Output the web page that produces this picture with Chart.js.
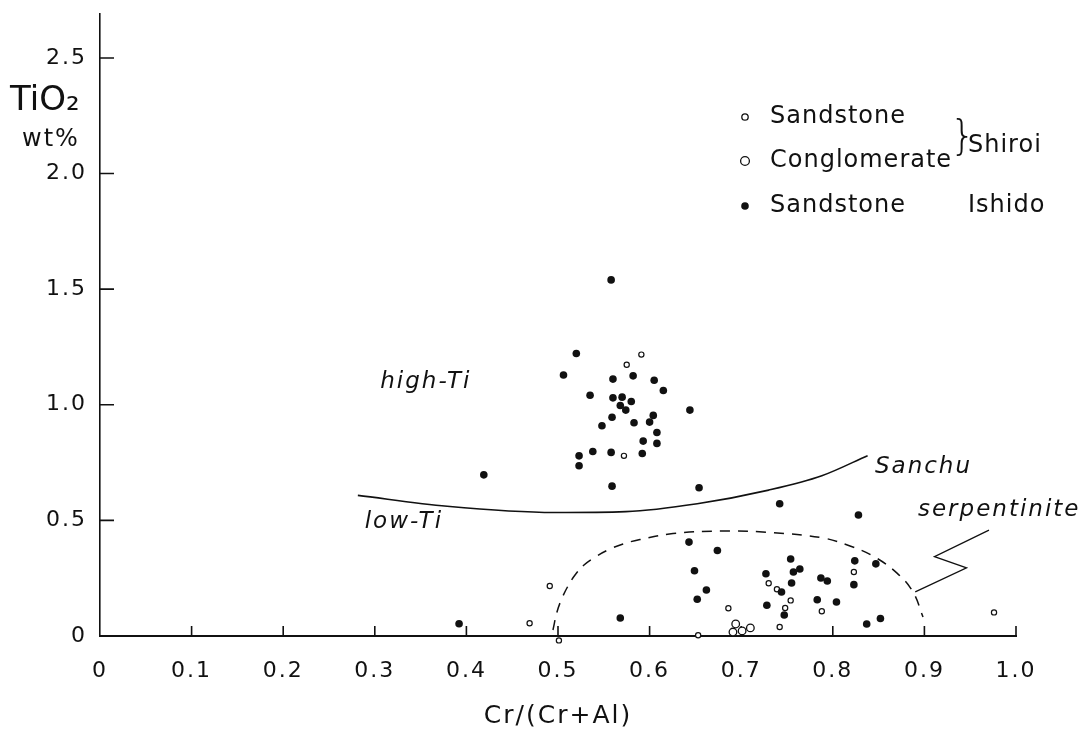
<!DOCTYPE html>
<html>
<head>
<meta charset="utf-8">
<script src="https://cdn.jsdelivr.net/npm/chart.js@4.4.1/dist/chart.umd.min.js"></script>
<style>
  html, body { margin: 0; background: #fff; }
  canvas { display: block; }
</style>
</head>
<body>
<canvas id="chart" width="1079" height="731"></canvas>
<script>
// --- data: [Cr/(Cr+Al), TiO2 wt%] ---
const xTicks = [0, 0.1, 0.2, 0.3, 0.4, 0.5, 0.6, 0.7, 0.8, 0.9, 1.0];
const yTicks = [0, 0.5, 1.0, 1.5, 2.0, 2.5];

// Ishido sandstone (filled dots)
const ishidoSandstone = [
  [0.558, 1.54], [0.520, 1.222], [0.506, 1.129], [0.560, 1.111], [0.582, 1.125],
  [0.605, 1.106], [0.615, 1.062], [0.535, 1.041], [0.560, 1.030], [0.570, 1.033],
  [0.580, 1.014], [0.568, 0.997], [0.574, 0.977], [0.644, 0.977], [0.559, 0.946],
  [0.604, 0.954], [0.600, 0.925], [0.548, 0.909], [0.583, 0.922], [0.608, 0.880],
  [0.593, 0.843], [0.608, 0.833], [0.523, 0.779], [0.538, 0.798], [0.558, 0.794],
  [0.592, 0.789], [0.523, 0.736], [0.419, 0.697], [0.559, 0.648], [0.654, 0.641],
  [0.742, 0.572], [0.828, 0.523], [0.643, 0.406], [0.674, 0.370], [0.754, 0.333],
  [0.824, 0.325], [0.847, 0.312], [0.649, 0.282], [0.764, 0.290], [0.757, 0.277],
  [0.727, 0.269], [0.787, 0.251], [0.794, 0.238], [0.755, 0.229], [0.823, 0.222],
  [0.662, 0.199], [0.744, 0.190], [0.652, 0.159], [0.783, 0.157], [0.804, 0.147],
  [0.728, 0.133], [0.747, 0.091], [0.837, 0.052], [0.852, 0.076], [0.568, 0.078],
  [0.392, 0.053]
];

// Shiroi sandstone (small open circles)
const shiroiSandstone = [
  [0.591, 1.217], [0.575, 1.173], [0.572, 0.779], [0.823, 0.277], [0.730, 0.228],
  [0.739, 0.202], [0.754, 0.154], [0.686, 0.120], [0.748, 0.121], [0.788, 0.107],
  [0.742, 0.039], [0.653, 0.003], [0.491, 0.216], [0.469, 0.055], [0.501, -0.019],
  [0.532, -0.026], [0.976, 0.102]
];

// Shiroi conglomerate (larger open circles)
const shiroiConglomerate = [
  [0.694, 0.052], [0.691, 0.017], [0.701, 0.022], [0.710, 0.035], [0.695, -0.030]
];

// high-Ti / low-Ti boundary
const boundaryLine = [
  [0.2815, 0.608], [0.379, 0.561], [0.496, 0.534], [0.574, 0.538],
  [0.652, 0.572], [0.730, 0.631], [0.788, 0.693], [0.838, 0.780]
];

// Sanchu serpentinite field (dashed)
const serpentiniteField = [
  [0.4945, 0.026], [0.4989, 0.104], [0.5044, 0.164], [0.5109, 0.216], [0.5186, 0.264],
  [0.5284, 0.307], [0.5404, 0.341], [0.5546, 0.372], [0.5710, 0.398], [0.5895, 0.417],
  [0.6255, 0.443], [0.6801, 0.454], [0.7347, 0.447], [0.7893, 0.424], [0.8188, 0.389],
  [0.8439, 0.346], [0.8701, 0.272], [0.8876, 0.190], [0.8985, 0.082]
];

// leader from the dashed field to its label
const serpentiniteLeader = [
  [0.890, 0.191], [0.946, 0.295], [0.911, 0.343], [0.9705, 0.458]
];

const FONT = "'DejaVu Sans', 'Liberation Sans', sans-serif";
const INK = '#111';

const toPts = arr => arr.map(([x, y]) => ({ x, y }));
const fmt = v => (v === 0 ? '0' : v.toFixed(1));

// --- text that sits on the drawing (anchored to data coordinates) ---
const notes = [
  { text: 'high-Ti', x: 0.306, y: 1.098 },
  { text: 'low-Ti', x: 0.289, y: 0.493 },
  { text: 'Sanchu', x: 0.846, y: 0.730 },
  { text: 'serpentinite', x: 0.893, y: 0.545 }
];

function drawSymbol(ctx, kind, x, y) {
  ctx.beginPath();
  if (kind === 'filled') {
    ctx.arc(x, y, 3.8, 0, Math.PI * 2);
    ctx.fillStyle = INK;
    ctx.fill();
  } else {
    ctx.arc(x, y, kind === 'big' ? 4.4 : 3.2, 0, Math.PI * 2);
    ctx.fillStyle = '#fff';
    ctx.fill();
    ctx.lineWidth = 1.3;
    ctx.strokeStyle = INK;
    ctx.stroke();
  }
}

const paperPlugin = {
  id: 'paper',
  beforeDraw(chart) {
    const ctx = chart.ctx;
    ctx.save();
    ctx.fillStyle = '#fff';
    ctx.fillRect(0, 0, chart.width, chart.height);
    ctx.restore();
    ctx.letterSpacing = '2px';
  },
  // ticks point inwards on this figure
  beforeDatasetsDraw(chart) {
    const { ctx, chartArea: a, scales: { x, y } } = chart;
    ctx.save();
    ctx.strokeStyle = INK;
    ctx.lineWidth = 1.6;
    ctx.beginPath();
    x.ticks.forEach(t => {
      if (t.value === 0) return;
      const px = x.getPixelForValue(t.value);
      ctx.moveTo(px, a.bottom);
      ctx.lineTo(px, a.bottom - 10);
    });
    y.ticks.forEach(t => {
      if (t.value === 0) return;
      const py = y.getPixelForValue(t.value);
      ctx.moveTo(a.left, py);
      ctx.lineTo(a.left + 14, py);
    });
    ctx.stroke();
    ctx.restore();
  },
  afterDraw(chart) {
    const { ctx, scales: { x, y } } = chart;
    ctx.save();
    ctx.fillStyle = INK;
    ctx.textBaseline = 'middle';
    ctx.textAlign = 'left';

    // y axis title
    ctx.letterSpacing = '0px';
    ctx.font = '34px ' + FONT;
    ctx.fillText('TiO\u2082', 10, 101);
    ctx.letterSpacing = '2px';
    ctx.font = '24px ' + FONT;
    ctx.fillText('wt%', 22, 140);

    // notes on the plot
    ctx.font = 'italic 23px ' + FONT;
    notes.forEach(n => {
      ctx.fillText(n.text, x.getPixelForValue(n.x), y.getPixelForValue(n.y));
    });

    // legend
    ctx.letterSpacing = '1px';
    const rows = [
      { kind: 'small', label: 'Sandstone', py: 117 },
      { kind: 'big', label: 'Conglomerate', py: 161 },
      { kind: 'filled', label: 'Sandstone', py: 206 }
    ];
    rows.forEach(r => {
      drawSymbol(ctx, r.kind, 745, r.py);
      ctx.fillStyle = INK;
      ctx.font = '24px ' + FONT;
      ctx.fillText(r.label, 770, r.py);
    });
    ctx.font = '300 40px ' + FONT;
    ctx.letterSpacing = '0px';
    ctx.fillText('}', 950, 139);
    ctx.letterSpacing = '1px';
    ctx.font = '24px ' + FONT;
    ctx.fillText('Shiroi', 968, 146);
    ctx.fillText('Ishido', 968, 206);
    ctx.restore();
  }
};

const ctx = document.getElementById('chart').getContext('2d');
new Chart(ctx, {
  type: 'scatter',
  data: {
    datasets: [
      {
        label: 'Sandstone (Ishido)', data: toPts(ishidoSandstone),
        pointRadius: 3.8, pointBackgroundColor: INK, pointBorderWidth: 0, clip: false
      },
      {
        label: 'Conglomerate (Shiroi)', data: toPts(shiroiConglomerate),
        pointRadius: 3.8, pointBackgroundColor: '#fff', pointBorderColor: INK, pointBorderWidth: 1.3, clip: false
      },
      {
        label: 'Sandstone (Shiroi)', data: toPts(shiroiSandstone),
        pointRadius: 2.6, pointBackgroundColor: '#fff', pointBorderColor: INK, pointBorderWidth: 1.2, clip: false
      },
      {
        label: 'high-Ti / low-Ti', data: toPts(boundaryLine), showLine: true,
        borderColor: INK, borderWidth: 1.6, pointRadius: 0, cubicInterpolationMode: 'monotone', clip: false
      },
      {
        label: 'Sanchu serpentinite', data: toPts(serpentiniteField), showLine: true,
        borderColor: INK, borderWidth: 1.5, borderDash: [10, 8], pointRadius: 0,
        tension: 0.4, clip: false
      },
      {
        label: 'leader', data: toPts(serpentiniteLeader), showLine: true,
        borderColor: INK, borderWidth: 1.3, pointRadius: 0, tension: 0, clip: false
      }
    ]
  },
  options: {
    responsive: false,
    animation: false,
    events: [],
    layout: { padding: { top: 14, right: 63, bottom: 0, left: 0 } },
    plugins: { legend: { display: false }, tooltip: { enabled: false } },
    scales: {
      x: {
        type: 'linear', min: 0, max: 1, bounds: 'data',
        afterBuildTicks: s => { s.ticks = xTicks.map(v => ({ value: v })); },
        afterFit: s => { s.height = 95; s.paddingLeft = 0; s.paddingRight = 0; },
        grid: { display: false, drawTicks: false, tickLength: 0 },
        border: { display: true, color: INK, width: 2 },
        ticks: { padding: 22, color: INK, font: { family: FONT, size: 22 }, callback: fmt },
        title: { display: true, text: 'Cr/(Cr+Al)', color: INK, padding: 0, font: { family: FONT, size: 25 } }
      },
      y: {
        type: 'linear', min: 0, max: 2.69, bounds: 'data',
        afterBuildTicks: s => { s.ticks = yTicks.map(v => ({ value: v })); },
        afterFit: s => { s.width = 100; s.paddingTop = 0; s.paddingBottom = 0; },
        grid: { display: false, drawTicks: false, tickLength: 0 },
        border: { display: true, color: INK, width: 1.6 },
        ticks: { padding: 13, color: INK, font: { family: FONT, size: 22 }, callback: fmt }
      }
    }
  },
  plugins: [paperPlugin]
});
</script>
</body>
</html>
